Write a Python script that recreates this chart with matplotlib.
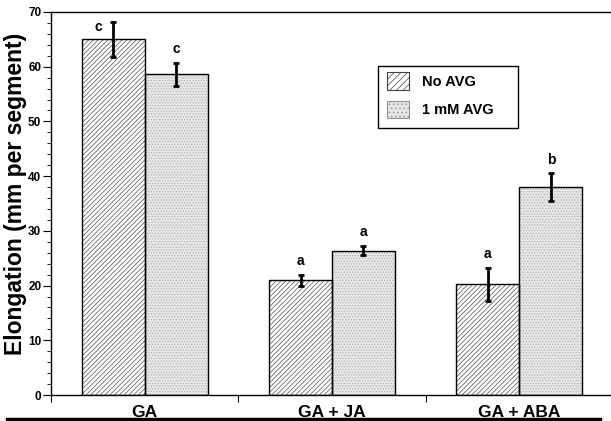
import matplotlib.pyplot as plt
import numpy as np
from matplotlib.lines import Line2D
from matplotlib.patches import Patch, Rectangle

plt.rcParams['font.family'] = ['Liberation Sans', 'DejaVu Sans']
plt.rcParams['font.weight'] = 'bold'
plt.rcParams['hatch.linewidth'] = 0.5

treatments = ['GA', 'GA + JA', 'GA + ABA']
series_names = ['No AVG', '1 mM AVG']
no_avg = [65.0, 21.0, 20.2]
no_avg_err = [3.2, 1.0, 3.1]
avg = [58.6, 26.4, 38.0]
avg_err = [2.1, 0.9, 2.5]
no_avg_letters = ['c', 'a', 'a']
avg_letters = ['c', 'a', 'b']

W, H = 611, 421
fig = plt.figure(figsize=(W / 100, H / 100), dpi=100)
ax = fig.add_axes([51 / W, 26 / H, 562 / W, 383 / H])

x = np.arange(len(treatments)) + 0.5
bw = 0.336

styles = [
    dict(hatch='///////', face='white', hcolor='#505050'),
    dict(hatch='......', face='#e6e6e6', hcolor='#b0b0b0'),
]
series = [(no_avg, no_avg_err, no_avg_letters), (avg, avg_err, avg_letters)]

for k, ((vals, errs, letters), st) in enumerate(zip(series, styles)):
    xs = x + (k - 0.5) * bw
    # texture layer, then a clean outline on top
    ax.bar(xs, vals, bw, color=st['face'], hatch=st['hatch'],
           edgecolor=st['hcolor'], linewidth=0, zorder=2)
    ax.bar(xs, vals, bw, fill=False, edgecolor='black', linewidth=1.0, zorder=3)
    ax.errorbar(xs, vals, yerr=errs, fmt='none', ecolor='black',
                elinewidth=2.0, capsize=2, capthick=2, zorder=4)
    for i, (xi, v, e, lab) in enumerate(zip(xs, vals, errs, letters)):
        tx, ty = xi, v + e + 2.5
        if ty > 66:
            # no headroom: tuck the letter beside the error bar
            tx, ty = xi - 0.08, v + 2.3
        ax.text(tx, ty, lab, ha='center', va='center', fontsize=10,
                fontweight='bold', zorder=5)

ax.set_xlim(0, 3)
ax.set_ylim(0, 70)

ax.set_yticks(np.arange(0, 71, 10))
ax.set_yticks(np.arange(0, 71, 2), minor=True)
ax.tick_params(axis='y', which='major', length=6, width=0.8, labelsize=8.5, pad=1)
ax.tick_params(axis='y', which='minor', length=3, width=0.6)

ax.set_xticks([0, 1, 2, 3])
ax.set_xticklabels([])
ax.tick_params(axis='x', which='major', length=5, width=0.8)
ax.set_xticks(x, treatments, minor=True)
ax.tick_params(axis='x', which='minor', length=0, labelsize=12.5, pad=7)

for lab in ax.get_yticklabels() + ax.get_xticklabels(minor=True):
    lab.set_fontweight('bold')

for s in ax.spines.values():
    s.set_linewidth(1.0)

ax.set_ylabel('Elongation (mm per segment)', fontsize=16.5, fontweight='bold')
ax.yaxis.set_label_coords(-0.042, 0.525)

# legend entries without frame; the box is drawn separately so it can be wider
handles = [
    Patch(facecolor=styles[0]['face'], hatch='/////', edgecolor='#404040', linewidth=0.8),
    Patch(facecolor=styles[1]['face'], hatch='....', edgecolor='#909090', linewidth=0.8),
]
leg = ax.legend(handles, series_names, loc='upper left',
                bbox_to_anchor=(383 / W, 1 - 68 / H), bbox_transform=fig.transFigure,
                frameon=False, prop=dict(weight='bold', size=10.5),
                handlelength=1.45, handleheight=1.45, handletextpad=0.9,
                borderpad=0.3, labelspacing=0.75, borderaxespad=0)
fig.add_artist(Rectangle((378 / W, 1 - 128 / H), 140 / W, 62 / H, fill=False,
                         edgecolor='black', linewidth=1.0, transform=fig.transFigure))

fig.add_artist(Line2D([7 / W, 600 / W], [1 - 419 / H] * 2, color='black',
                      linewidth=2.5, transform=fig.transFigure))

fig.savefig('out.png', dpi=100)
